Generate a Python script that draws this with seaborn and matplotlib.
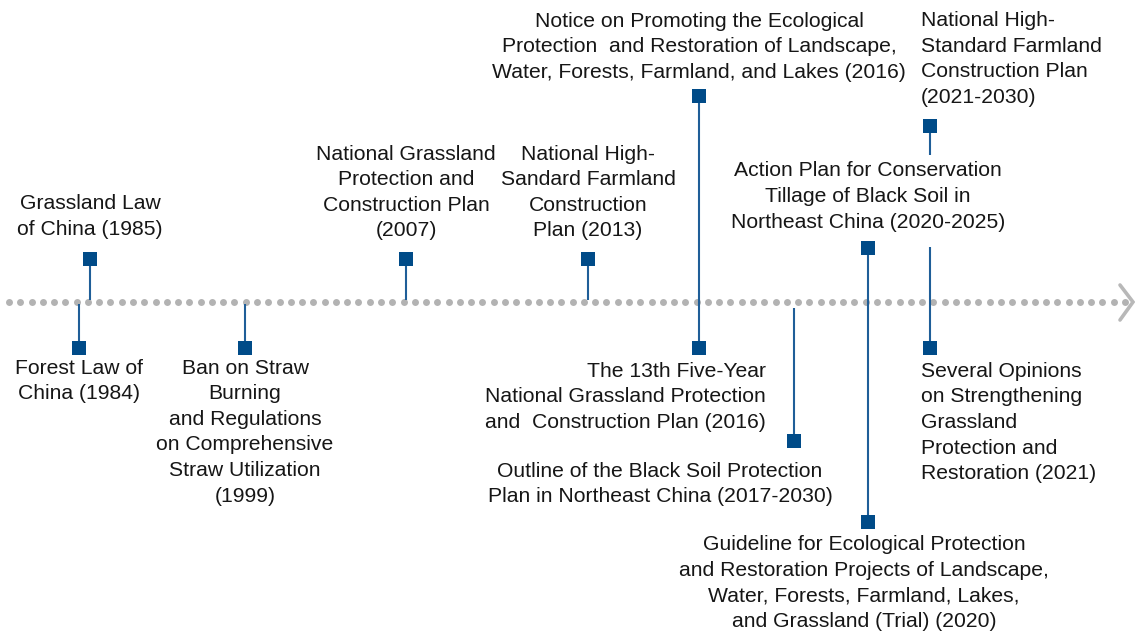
import matplotlib.pyplot as plt
import numpy as np
import seaborn as sns

# Policy milestones along the timeline
labels = [
    "Grassland Law\nof China (1985)",
    "Forest Law of\nChina (1984)",
    "Ban on Straw\nBurning\nand Regulations\non Comprehensive\nStraw Utilization\n(1999)",
    "National Grassland\nProtection and\nConstruction Plan\n(2007)",
    "National High-\nSandard Farmland\nConstruction\nPlan (2013)",
    "Notice on Promoting the Ecological\nProtection  and Restoration of Landscape,\nWater, Forests, Farmland, and Lakes (2016)",
    "The 13th Five-Year\nNational Grassland Protection\nand  Construction Plan (2016)",
    "Outline of the Black Soil Protection\nPlan in Northeast China (2017-2030)",
    "Action Plan for Conservation\nTillage of Black Soil in\nNortheast China (2020-2025)",
    "Guideline for Ecological Protection\nand Restoration Projects of Landscape,\nWater, Forests, Farmland, Lakes,\nand Grassland (Trial) (2020)",
    "National High-\nStandard Farmland\nConstruction Plan\n(2021-2030)",
    "Several Opinions\non Strengthening\nGrassland\nProtection and\nRestoration (2021)",
]
event_x = [90, 79, 245, 406, 588, 699, 699, 794, 868, 868, 930, 930]
marker_y = [259, 348, 348, 259, 259, 96, 348, 441, 248, 522, 126, 348]
label_x = [90, 79, 245, 406, 588, 699, 766, 660, 868, 864, 921, 921]
label_y = [216.5, 381, 432, 192.5, 192.5, 47, 397, 484, 196.5, 583, 59, 422.5]
label_ha = ["center"] * 10 + ["left", "left"]
label_ha[6] = "right"

# connector lines (x, from, to)
stem_x = [90, 79, 245, 406, 588, 699, 794, 868, 930, 930]
stem_top = [259, 304, 304, 259, 259, 96, 308, 248, 126, 247]
stem_bottom = [300, 348, 348, 300, 300, 348, 441, 522, 155, 348]

W, H = 1135, 635
axis_y = 302

sns.set_style("white")
plt.rcParams["font.family"] = ["Liberation Sans", "DejaVu Sans"]

fig = plt.figure(figsize=(W / 100, H / 100), dpi=100)
ax = fig.add_axes([0, 0, 1, 1])
ax.set_xlim(0, W)
ax.set_ylim(H, 0)
ax.axis("off")

# dotted time axis with chevron
dots_x = np.linspace(9, 1125, 100)
sns.scatterplot(x=dots_x, y=np.full_like(dots_x, axis_y), s=25, color="#b3b3b3",
                linewidth=0, ax=ax, zorder=1)
ax.plot([1120, 1133, 1120], [285, axis_y, 320], color="#b8b8b8", lw=2.6,
        solid_joinstyle="miter", zorder=1)

ax.vlines(stem_x, stem_top, stem_bottom, color="#1f5e98", lw=1.5, zorder=2)
sns.scatterplot(x=event_x, y=marker_y, marker="s", s=88, color="#004b88",
                linewidth=0, ax=ax, zorder=3)

for txt, x, y, ha in zip(labels, label_x, label_y, label_ha):
    ax.text(x, y, txt, ha=ha, va="center", multialignment=ha, fontsize=15.2,
            color="#161616", linespacing=1.44)

plt.savefig("out.png", dpi=100)
